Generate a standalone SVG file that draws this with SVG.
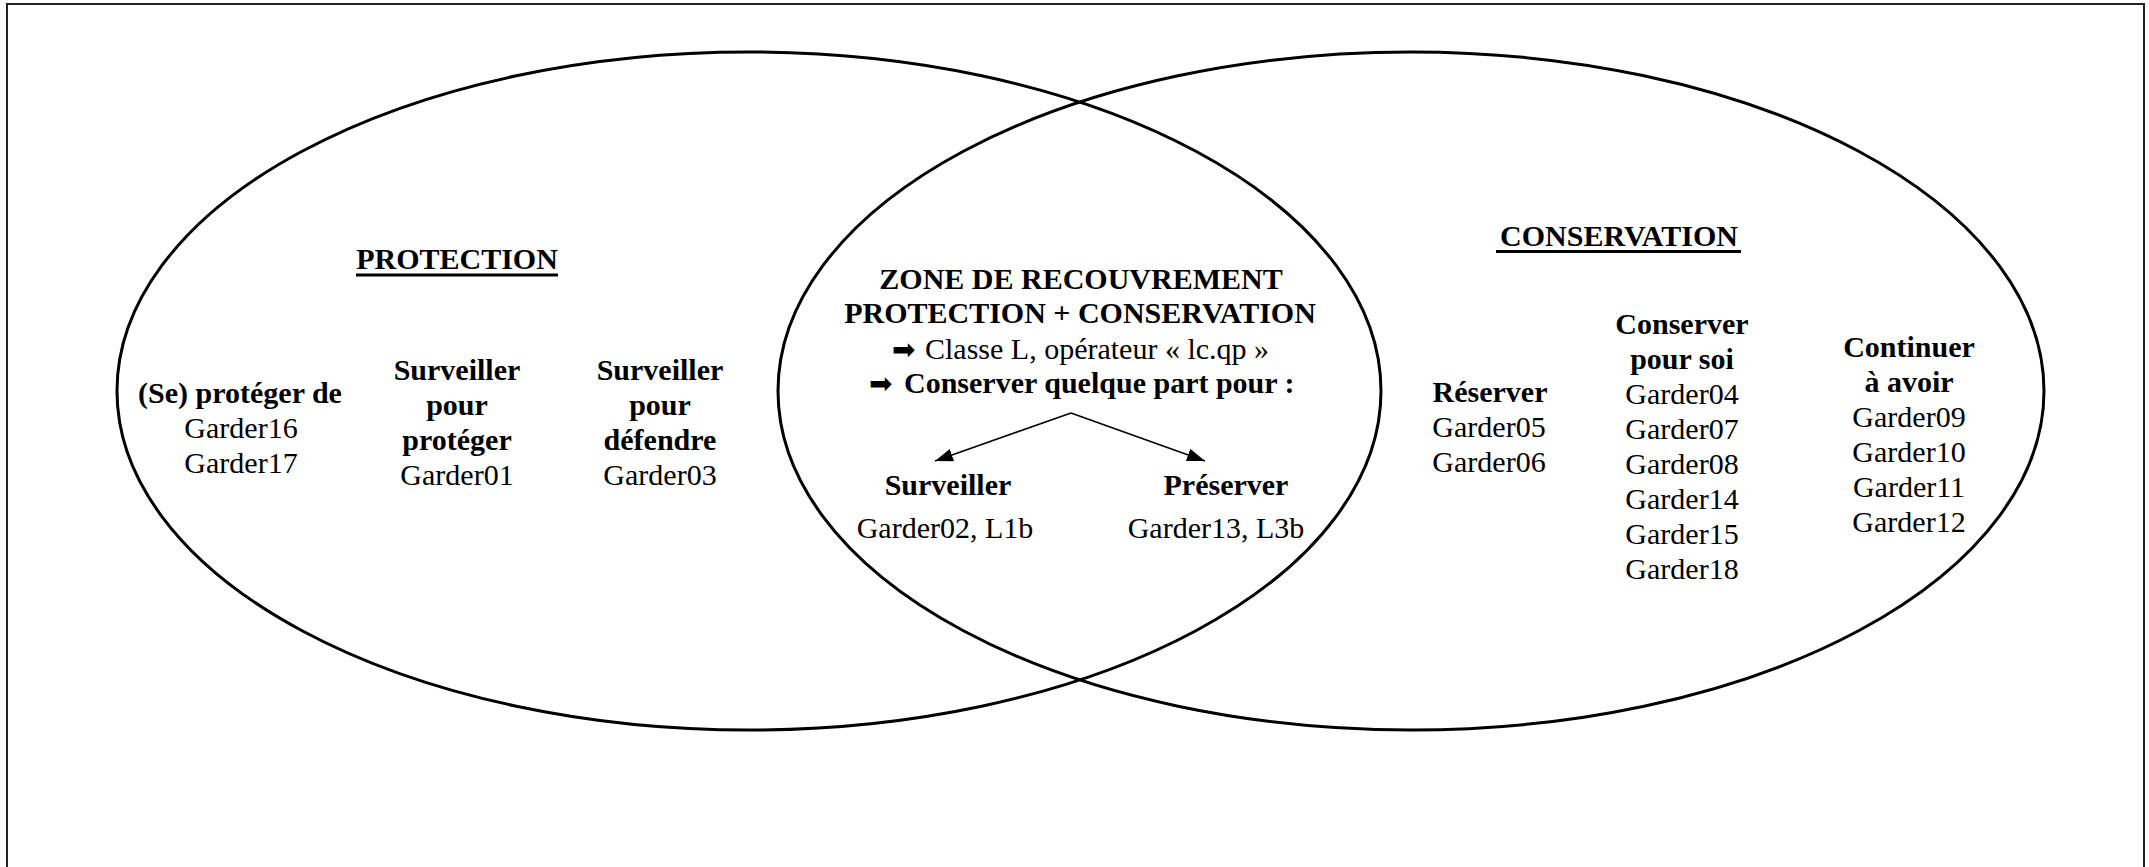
<svg xmlns="http://www.w3.org/2000/svg" width="2149" height="867" viewBox="0 0 2149 867">
  <defs>
    <marker id="ah" markerUnits="userSpaceOnUse" markerWidth="20" markerHeight="14" refX="18" refY="6.5" orient="auto">
      <path d="M0,0 L18,6.5 L0,13 z" fill="#000"/>
    </marker>
    <style>
      text { font-family: "Liberation Serif", "Times New Roman", serif; font-size: 30px; fill: #000; }
      .b { font-weight: bold; }
      .m { text-anchor: middle; }
      .sym { font-family: "DejaVu Sans", sans-serif; font-size: 28px; }
      .ell { fill: none; stroke: #000; stroke-width: 3; }
      .ul { stroke: #000; stroke-width: 3; }
      .conn { fill: none; stroke: #000; stroke-width: 1.6; }
    </style>
  </defs>
  <rect x="0" y="0" width="2149" height="867" fill="#fff"/>
  <path d="M7,867 V4 H2144 V867" fill="none" stroke="#222" stroke-width="2"/>

  <g id="protection">
    <ellipse class="ell" cx="749" cy="391" rx="632" ry="339"/>
    <text class="b m" x="457" y="269">PROTECTION</text>
    <line class="ul" x1="356" y1="275" x2="558" y2="275"/>
  </g>

  <g id="conservation">
    <ellipse class="ell" cx="1411" cy="391" rx="633" ry="339"/>
    <text class="b m" x="1619" y="246">CONSERVATION</text>
    <line class="ul" x1="1496" y1="251.5" x2="1741" y2="251.5"/>
  </g>

  <g id="se-proteger">
    <text class="b m" x="240" y="403">(Se) protéger de</text>
    <text class="m" x="241" y="438">Garder16</text>
    <text class="m" x="241" y="473">Garder17</text>
  </g>

  <g id="surveiller-proteger">
    <text class="b m" x="457" y="380">Surveiller</text>
    <text class="b m" x="457" y="415">pour</text>
    <text class="b m" x="457" y="450">protéger</text>
    <text class="m" x="457" y="485">Garder01</text>
  </g>

  <g id="surveiller-defendre">
    <text class="b m" x="660" y="380">Surveiller</text>
    <text class="b m" x="660" y="415">pour</text>
    <text class="b m" x="660" y="450">défendre</text>
    <text class="m" x="660" y="485">Garder03</text>
  </g>

  <g id="zone-recouvrement">
    <text class="b m" x="1081" y="289">ZONE DE RECOUVREMENT</text>
    <text class="b m" x="1080" y="323">PROTECTION + CONSERVATION</text>
    <text class="sym" x="892" y="359">➡</text>
    <text x="925" y="359">Classe L, opérateur « lc.qp »</text>
    <text class="sym" x="869" y="393">➡</text>
    <text class="b" x="904" y="393">Conserver quelque part pour :</text>
  </g>

  <g id="surveiller">
    <text class="b m" x="948" y="495">Surveiller</text>
    <text class="m" x="945" y="538">Garder02, L1b</text>
  </g>

  <g id="preserver">
    <text class="b m" x="1226" y="495">Préserver</text>
    <text class="m" x="1216" y="538">Garder13, L3b</text>
  </g>

  <g id="reserver">
    <text class="b m" x="1490" y="402">Réserver</text>
    <text class="m" x="1489" y="437">Garder05</text>
    <text class="m" x="1489" y="472">Garder06</text>
  </g>

  <g id="conserver-pour-soi">
    <text class="b m" x="1682" y="334">Conserver</text>
    <text class="b m" x="1682" y="369">pour soi</text>
    <text class="m" x="1682" y="404">Garder04</text>
    <text class="m" x="1682" y="439">Garder07</text>
    <text class="m" x="1682" y="474">Garder08</text>
    <text class="m" x="1682" y="509">Garder14</text>
    <text class="m" x="1682" y="544">Garder15</text>
    <text class="m" x="1682" y="579">Garder18</text>
  </g>

  <g id="continuer-a-avoir">
    <text class="b m" x="1909" y="357">Continuer</text>
    <text class="b m" x="1909" y="392">à avoir</text>
    <text class="m" x="1909" y="427">Garder09</text>
    <text class="m" x="1909" y="462">Garder10</text>
    <text class="m" x="1909" y="497">Garder11</text>
    <text class="m" x="1909" y="532">Garder12</text>
  </g>

  <g id="connectors">
    <line class="conn" x1="1071" y1="413" x2="935" y2="461" marker-end="url(#ah)"/>
    <line class="conn" x1="1071" y1="413" x2="1205" y2="461" marker-end="url(#ah)"/>
  </g>
</svg>
